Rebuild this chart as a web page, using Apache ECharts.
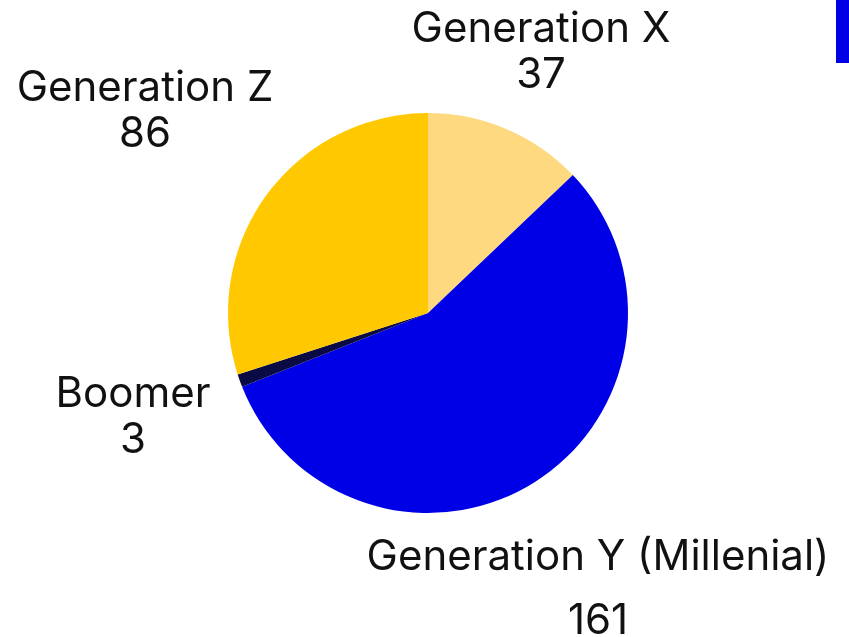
<!DOCTYPE html>
<html>
<head>
<meta charset="utf-8">
<script src="https://cdn.jsdelivr.net/npm/echarts@6/dist/echarts.min.js"></script>
<style>
  html, body { margin: 0; padding: 0; background: #fff; }
  #chart { width: 849px; height: 637px; }
</style>
</head>
<body>
<div id="chart"></div>
<script>
// 数据
const categories = ["Generation X", "Generation Y (Millenial)", "Boomer", "Generation Z"];
const values = [37, 161, 3, 86];
const colors = ["#FFD980", "#0000E6", "#0A0A45", "#FFC800"];
// label centre points (x, y)
const labelPos = [[541, 52], [598, 589], [133, 417], [145, 111]];

const chart = echarts.init(document.getElementById("chart"));

const seriesData = categories.map((name, i) => {
  return {
    name: name,
    value: values[i],
    itemStyle: { color: colors[i] },
    label: { lineHeight: i === 1 ? 64 : 46 }
  };
});

chart.setOption({
  animation: false,
  legend: {
    left: 836,
    top: 0,
    padding: 0,
    icon: "rect",
    itemWidth: 60,
    itemHeight: 63,
    data: [categories[1]],
    textStyle: { fontSize: 30 }
  },
  series: [
    {
      type: "pie",
      center: [428, 313],
      radius: 200,
      startAngle: 90,
      clockwise: true,
      data: seriesData,
      labelLine: { show: false },
      label: {
        show: true,
        position: "outside",
        alignTo: "none",
        overflow: "none",
        formatter: "{b}\n{c}",
        fontFamily: "Inter, 'Noto Sans', sans-serif",
        fontSize: 42,
        color: "#111",
        align: "center"
      },
      labelLayout: (params) => {
        const p = labelPos[params.dataIndex];
        return { x: p[0], y: p[1], align: "center", verticalAlign: "middle" };
      }
    }
  ]
});
</script>
</body>
</html>
